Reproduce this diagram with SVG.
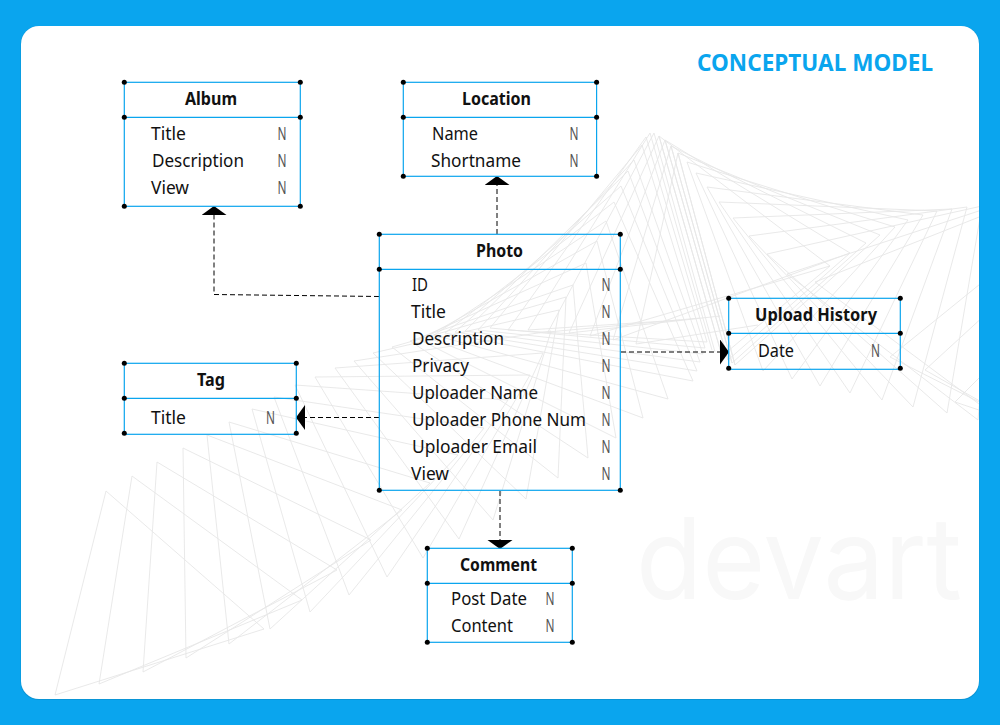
<svg xmlns="http://www.w3.org/2000/svg" width="1000" height="725" viewBox="0 0 1000 725">
<style>
text{font-family:"Noto Sans","Open Sans","Liberation Sans",sans-serif;font-size:17.5px;fill:#111}
.h{font-weight:700}
.n{fill:#555}
.box{fill:none;stroke:#0aa5ee;stroke-width:1.2}
.dot{fill:#000}
.tri polygon,.tri path{fill:none;stroke:#e6e6e6;stroke-width:.9}
.con{fill:none;stroke:#000;stroke-width:1;stroke-dasharray:5 3}
</style>
<defs>
<clipPath id="card"><rect x="21" y="26" width="958" height="673" rx="18"/></clipPath>
<marker id="arrow" markerUnits="userSpaceOnUse" markerWidth="10" markerHeight="26" refX="0" refY="12.5" orient="auto"><path d="M0 0L9 12.5L0 25Z" fill="#000"/></marker>
</defs>
<rect width="1000" height="725" fill="#0aa5ee"/>
<rect x="20.5" y="26" width="959" height="674" rx="18" fill="#0a95d6"/>
<rect x="21" y="26" width="958" height="673" rx="18" fill="#fff"/>
<g id="background" clip-path="url(#card)">
<text x="636" y="599" textLength="326" lengthAdjust="spacingAndGlyphs" style="font-family:Inter,'Noto Sans',sans-serif;font-size:113px;font-weight:400;fill:#f8f8f8">devart</text>
<g class="tri">
<polygon points="106,491 55,695 264,629"/>
<polygon points="132,476 99,684 302,600"/>
<polygon points="157,462 143,672 337,570"/>
<polygon points="183,448 186,658 371,540"/>
<polygon points="207,435 229,644 402,510"/>
<polygon points="229,422 270,629 430,483"/>
<polygon points="252,409 310,612 458,455"/>
<polygon points="274,397 349,595 484,428"/>
<polygon points="295,385 387,577 508,400"/>
<polygon points="315,377 423,558 530,375"/>
<polygon points="335,368 459,539 543,353"/>
<polygon points="354,361 493,520 551,331"/>
<polygon points="373,353 526,499 559,310"/>
<polygon points="392,347 558,478 566,297"/>
<polygon points="410,341 588,458 573,285"/>
<polygon points="418,339 616,438 586,263"/>
<polygon points="426,337 643,418 597,241"/>
<polygon points="434,335 668,399 606,221"/>
<polygon points="445,333 693,381 614,202"/>
<polygon points="455,332 697,371 621,186"/>
<polygon points="465,331 700,362 628,171"/>
<polygon points="478,330 703,354 634,160"/>
<polygon points="490,328 705,348 642,145"/>
<polygon points="508,330 707,342 646,137"/>
<path d="M528 330L650 133L712 350M528 330L680 320"/>
<path d="M548 332L654 133L715 352M548 332L700 318"/>
<path d="M569 333L659 136L722 356M569 333L720 316"/>
<path d="M590 336L665 140L728 360M590 336L830 266"/>
<path d="M613 340L671 146L732 363M613 340L850 253"/>
<path d="M636 344L678 153L735 365M636 344L758 325"/>
<polygon points="830,266 722,356 659,136"/>
<polygon points="850,253 728,360 665,140"/>
<polygon points="866,243 732,363 671,146"/>
<polygon points="880,235 735,365 678,153"/>
<polygon points="895,227 763,371 687,162"/>
<polygon points="908,220 792,379 696,173"/>
<polygon points="923,215 820,386 707,187"/>
<polygon points="937,211 850,393 719,202"/>
<polygon points="952,209 882,400 733,218"/>
<polygon points="967,207 913,407 749,236"/>
<polygon points="982,206 947,413 767,254"/>
<polygon points="997,205 978,420 787,274"/>
<polygon points="1012,204 1010,427 815,282"/>
<path d="M890 357L985 405M925 370L985 404M955 402L985 412M890 357L985 280M925 370L985 315M955 402L985 372"/>
</g>
</g>
<text x="697" y="71" textLength="236" lengthAdjust="spacing" style="font-size:22.5px;font-weight:700;fill:#0aa5ee">CONCEPTUAL MODEL</text>
<g id="connectors">
<path class="con" d="M379 296.5L214 294.5V215" marker-end="url(#arrow)"/>
<path class="con" d="M497 234V185" marker-end="url(#arrow)"/>
<path class="con" d="M500 491V540" marker-end="url(#arrow)"/>
<path class="con" d="M621 352H720" marker-end="url(#arrow)"/>
<path class="con" d="M379 417.5H305" marker-end="url(#arrow)"/>
</g>
<g id="album">
<rect class="box" x="124.3" y="82.3" width="176" height="124"/>
<path class="box" d="M124.3 117.3H300.3"/>
<g class="dot"><circle cx="124.3" cy="82.3" r="2.5"/><circle cx="300.3" cy="82.3" r="2.5"/><circle cx="124.3" cy="117.3" r="2.5"/><circle cx="300.3" cy="117.3" r="2.5"/><circle cx="124.3" cy="206.3" r="2.5"/><circle cx="300.3" cy="206.3" r="2.5"/></g>
<text class="h" x="185" y="105" textLength="52" lengthAdjust="spacingAndGlyphs">Album</text>
<text x="151" y="140" textLength="35" lengthAdjust="spacingAndGlyphs">Title</text>
<text x="152" y="167" textLength="92" lengthAdjust="spacingAndGlyphs">Description</text>
<text x="151" y="194" textLength="38" lengthAdjust="spacingAndGlyphs">View</text>
<text class="n" x="277.5" y="140" textLength="9" lengthAdjust="spacingAndGlyphs">N</text>
<text class="n" x="277.5" y="167" textLength="9" lengthAdjust="spacingAndGlyphs">N</text>
<text class="n" x="277.5" y="194" textLength="9" lengthAdjust="spacingAndGlyphs">N</text>
</g>
<g id="location">
<rect class="box" x="403.3" y="82.3" width="193.3" height="94"/>
<path class="box" d="M403.3 117.3H596.6"/>
<g class="dot"><circle cx="403.3" cy="82.3" r="2.5"/><circle cx="596.6" cy="82.3" r="2.5"/><circle cx="403.3" cy="117.3" r="2.5"/><circle cx="596.6" cy="117.3" r="2.5"/><circle cx="403.3" cy="176.3" r="2.5"/><circle cx="596.6" cy="176.3" r="2.5"/></g>
<text class="h" x="462" y="105" textLength="69" lengthAdjust="spacingAndGlyphs">Location</text>
<text x="432" y="140" textLength="46" lengthAdjust="spacingAndGlyphs">Name</text>
<text x="431" y="167" textLength="90" lengthAdjust="spacingAndGlyphs">Shortname</text>
<text class="n" x="569.5" y="140" textLength="9" lengthAdjust="spacingAndGlyphs">N</text>
<text class="n" x="569.5" y="167" textLength="9" lengthAdjust="spacingAndGlyphs">N</text>
</g>
<g id="photo">
<rect class="box" x="379.3" y="234.3" width="241" height="256"/>
<path class="box" d="M379.3 269.3H620.3"/>
<g class="dot"><circle cx="379.3" cy="234.3" r="2.5"/><circle cx="620.3" cy="234.3" r="2.5"/><circle cx="379.3" cy="269.3" r="2.5"/><circle cx="620.3" cy="269.3" r="2.5"/><circle cx="379.3" cy="490.3" r="2.5"/><circle cx="620.3" cy="490.3" r="2.5"/></g>
<text class="h" x="476" y="257" textLength="47" lengthAdjust="spacingAndGlyphs">Photo</text>
<text x="412" y="291" textLength="16" lengthAdjust="spacingAndGlyphs">ID</text>
<text x="411" y="318" textLength="35" lengthAdjust="spacingAndGlyphs">Title</text>
<text x="412" y="345" textLength="92" lengthAdjust="spacingAndGlyphs">Description</text>
<text x="412" y="372" textLength="57" lengthAdjust="spacingAndGlyphs">Privacy</text>
<text x="412" y="399" textLength="126" lengthAdjust="spacingAndGlyphs">Uploader Name</text>
<text x="412" y="426" textLength="174" lengthAdjust="spacingAndGlyphs">Uploader Phone Num</text>
<text x="412" y="453" textLength="125" lengthAdjust="spacingAndGlyphs">Uploader Email</text>
<text x="411" y="480" textLength="38" lengthAdjust="spacingAndGlyphs">View</text>
<text class="n" x="601.5" y="291" textLength="9" lengthAdjust="spacingAndGlyphs">N</text>
<text class="n" x="601.5" y="318" textLength="9" lengthAdjust="spacingAndGlyphs">N</text>
<text class="n" x="601.5" y="345" textLength="9" lengthAdjust="spacingAndGlyphs">N</text>
<text class="n" x="601.5" y="372" textLength="9" lengthAdjust="spacingAndGlyphs">N</text>
<text class="n" x="601.5" y="399" textLength="9" lengthAdjust="spacingAndGlyphs">N</text>
<text class="n" x="601.5" y="426" textLength="9" lengthAdjust="spacingAndGlyphs">N</text>
<text class="n" x="601.5" y="453" textLength="9" lengthAdjust="spacingAndGlyphs">N</text>
<text class="n" x="601.5" y="480" textLength="9" lengthAdjust="spacingAndGlyphs">N</text>
</g>
<g id="upload-history">
<rect class="box" x="728.7" y="298.3" width="171.6" height="71"/>
<path class="box" d="M728.7 333.3H900.3"/>
<g class="dot"><circle cx="728.7" cy="298.3" r="2.5"/><circle cx="900.3" cy="298.3" r="2.5"/><circle cx="728.7" cy="333.3" r="2.5"/><circle cx="900.3" cy="333.3" r="2.5"/><circle cx="728.7" cy="368.3" r="2.5"/><circle cx="900.3" cy="368.3" r="2.5"/></g>
<text class="h" x="755" y="321" textLength="122" lengthAdjust="spacingAndGlyphs">Upload History</text>
<text x="758" y="357" textLength="36" lengthAdjust="spacingAndGlyphs">Date</text>
<text class="n" x="871" y="357" textLength="9" lengthAdjust="spacingAndGlyphs">N</text>
</g>
<g id="tag">
<rect class="box" x="124.3" y="363.3" width="172" height="71"/>
<path class="box" d="M124.3 398.3H296.3"/>
<g class="dot"><circle cx="124.3" cy="363.3" r="2.5"/><circle cx="296.3" cy="363.3" r="2.5"/><circle cx="124.3" cy="398.3" r="2.5"/><circle cx="296.3" cy="398.3" r="2.5"/><circle cx="124.3" cy="433.3" r="2.5"/><circle cx="296.3" cy="433.3" r="2.5"/></g>
<text class="h" x="197" y="386" textLength="28" lengthAdjust="spacingAndGlyphs">Tag</text>
<text x="151" y="424" textLength="35" lengthAdjust="spacingAndGlyphs">Title</text>
<text class="n" x="266" y="424" textLength="9" lengthAdjust="spacingAndGlyphs">N</text>
</g>
<g id="comment">
<rect class="box" x="427.3" y="548.3" width="145" height="94"/>
<path class="box" d="M427.3 583.3H572.3"/>
<g class="dot"><circle cx="427.3" cy="548.3" r="2.5"/><circle cx="572.3" cy="548.3" r="2.5"/><circle cx="427.3" cy="583.3" r="2.5"/><circle cx="572.3" cy="583.3" r="2.5"/><circle cx="427.3" cy="642.3" r="2.5"/><circle cx="572.3" cy="642.3" r="2.5"/></g>
<text class="h" x="460" y="571" textLength="77" lengthAdjust="spacingAndGlyphs">Comment</text>
<text x="451" y="605" textLength="76" lengthAdjust="spacingAndGlyphs">Post Date</text>
<text x="451" y="632" textLength="62" lengthAdjust="spacingAndGlyphs">Content</text>
<text class="n" x="545.5" y="605" textLength="9" lengthAdjust="spacingAndGlyphs">N</text>
<text class="n" x="545.5" y="632" textLength="9" lengthAdjust="spacingAndGlyphs">N</text>
</g>
</svg>
